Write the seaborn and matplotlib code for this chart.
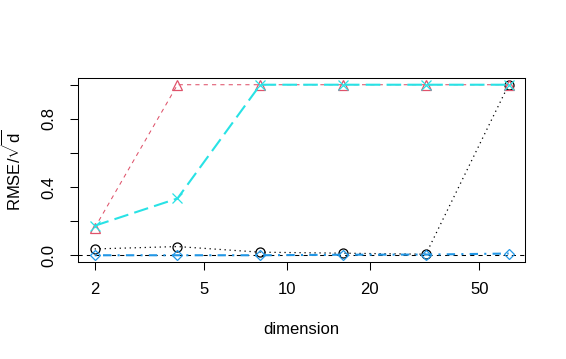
import numpy as np
import pandas as pd
import matplotlib
matplotlib.use("Agg")
import matplotlib.pyplot as plt
import seaborn as sns

# data
dims = [2, 4, 8, 16, 32, 64]
err_black = [0.037, 0.051, 0.018, 0.012, 0.006, 1.0]
err_pink = [0.16, 1.0, 1.0, 1.0, 1.0, 1.0]
err_cyan = [0.173, 0.333, 1.0, 1.0, 1.0, 1.0]
err_blue = [0.0, 0.0, 0.0, 0.003, 0.004, 0.01]

xticks = [2, 5, 10, 20, 50]
yticks = [0.0, 0.2, 0.4, 0.6, 0.8, 1.0]
ytick_labels = ["0.0", "", "0.4", "", "0.8", ""]

sns.set_theme(style="white")
plt.rcParams["font.family"] = ["Liberation Sans", "DejaVu Sans"]
plt.rcParams["mathtext.fontset"] = "custom"
plt.rcParams["mathtext.rm"] = "Liberation Sans"
plt.rcParams["mathtext.sf"] = "Liberation Sans"

fig = plt.figure(figsize=(5.66, 3.59), dpi=100)
ax = fig.add_axes([0.138, 0.27, 0.79, 0.513])

# series: values, colour, marker, dash pattern, width
series = [
    (err_black, "black", "o", (0, (1, 3)), 0.9),
    (err_pink, "#DF536B", "^", (0, (4, 4)), 0.75),
    (err_cyan, "#28E2E5", "x", (0, (7, 3)), 1.5),
    (err_blue, "#2297E6", "D", (0, (1, 3, 4, 3)), 1.5),
]

ax.axhline(0, color="black", linestyle=(0, (4, 4)), linewidth=0.75, zorder=1)

for vals, col, mk, ls, lw in series:
    df = pd.DataFrame({"dimension": dims, "rmse": vals})
    sns.lineplot(data=df, x="dimension", y="rmse", ax=ax, color=col,
                 linestyle=ls, linewidth=lw, marker=mk,
                 markersize=6.5 if mk != "D" else 5,
                 markerfacecolor="none", markeredgecolor=col,
                 markeredgewidth=0.9)

ax.set_xscale("log")
pad = 32 ** 0.04
ax.set_xlim(2 / pad, 64 * pad)
ax.set_ylim(-0.04, 1.04)

ax.set_xticks(xticks)
ax.set_xticklabels([str(t) for t in xticks])
ax.xaxis.set_minor_locator(matplotlib.ticker.NullLocator())
ax.set_yticks(yticks)
ax.set_yticklabels(ytick_labels, rotation=90, va="center")

ax.tick_params(axis="both", direction="out", length=6, width=0.75,
               color="black", labelsize=12, labelcolor="black",
               bottom=True, left=True)
ax.tick_params(axis="x", pad=8)
ax.tick_params(axis="y", pad=10)

for s in ax.spines.values():
    s.set_color("black")
    s.set_linewidth(0.75)

ax.set_xlabel("dimension", fontsize=12, color="black", labelpad=18)
ax.set_ylabel(r"RMSE$/\sqrt{\mathrm{d}}$", fontsize=12, color="black", labelpad=12)

fig.savefig("out.png", dpi=100)
